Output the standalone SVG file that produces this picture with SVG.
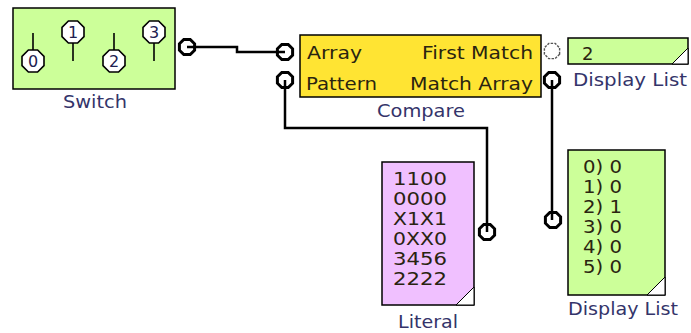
<svg xmlns="http://www.w3.org/2000/svg" width="691" height="333" viewBox="0 0 691 333">
<style>
.box{stroke:#000;stroke-width:1.5}
.t{font-family:"DejaVu Sans",Verdana,sans-serif;font-size:18px;fill:#2a2410}
.lbl{font-family:"DejaVu Sans",Verdana,sans-serif;font-size:18px;fill:#34346a}
.k{font-family:"DejaVu Sans",Verdana,sans-serif;font-size:16px;fill:#202050;text-anchor:middle}
.wire{fill:none;stroke:#000;stroke-width:2.5}
.port{fill:#fff;stroke:#000;stroke-width:3}
.dport{fill:#fff;stroke:#555;stroke-width:1.4;stroke-dasharray:2.5 1.2}
.knob{fill:#fff;stroke:#000;stroke-width:1.6}
.stem{stroke:#000;stroke-width:1.6}
.corner{fill:#fff;stroke:#000;stroke-width:1}
</style>
<defs>
<polygon id="oct" points="7.6,3.2 3.2,7.6 -3.2,7.6 -7.6,3.2 -7.6,-3.2 -3.2,-7.6 3.2,-7.6 7.6,-3.2"/>
<polygon id="koct" points="11,4.6 4.6,11 -4.6,11 -11,4.6 -11,-4.6 -4.6,-11 4.6,-11 11,-4.6"/>
</defs>

<g id="switch">
<rect class="box" x="13" y="8" width="162" height="81" fill="#ccff99"/>
<line class="stem" x1="33" y1="33" x2="33" y2="51"/>
<use href="#koct" class="knob" x="33" y="61"/>
<text class="k" x="33" y="67">0</text>
<line class="stem" x1="73" y1="42" x2="73" y2="61"/>
<use href="#koct" class="knob" x="73" y="32"/>
<text class="k" x="73" y="38">1</text>
<line class="stem" x1="114" y1="33" x2="114" y2="51"/>
<use href="#koct" class="knob" x="114" y="61"/>
<text class="k" x="114" y="67">2</text>
<line class="stem" x1="154" y1="42" x2="154" y2="61"/>
<use href="#koct" class="knob" x="154" y="32"/>
<text class="k" x="154" y="38">3</text>
<use href="#oct" class="port" x="187" y="47"/>
<text class="lbl" x="63" y="108" textLength="64" lengthAdjust="spacingAndGlyphs">Switch</text>
</g>

<g id="compare">
<rect class="box" x="300" y="35" width="241" height="62" fill="#ffe433"/>
<text class="t" x="307" y="59" textLength="55" lengthAdjust="spacingAndGlyphs">Array</text>
<text class="t" x="306" y="90" textLength="71" lengthAdjust="spacingAndGlyphs">Pattern</text>
<text class="t" x="422" y="59" textLength="111" lengthAdjust="spacingAndGlyphs">First Match</text>
<text class="t" x="410" y="90" textLength="123" lengthAdjust="spacingAndGlyphs">Match Array</text>
<use href="#oct" class="port" x="285" y="52"/>
<use href="#oct" class="port" x="285" y="80"/>
<use href="#oct" class="dport" x="552" y="51"/>
<use href="#oct" class="port" x="552" y="80"/>
<text class="lbl" x="377" y="117" textLength="88" lengthAdjust="spacingAndGlyphs">Compare</text>
</g>

<g id="display1">
<rect class="box" x="568" y="38" width="120" height="26" fill="#ccff99"/>
<polygon class="corner" points="688,48 688,64 672,64"/>
<text class="t" x="582" y="60">2</text>
<text class="lbl" x="573" y="86" textLength="114" lengthAdjust="spacingAndGlyphs">Display List</text>
</g>

<g id="literal">
<rect class="box" x="382" y="162" width="92" height="143" fill="#f0c0ff"/>
<polygon class="corner" points="474,287 474,305 456,305"/>
<g class="t">
<text x="393" y="185" textLength="54" lengthAdjust="spacingAndGlyphs">1100</text>
<text x="393" y="205" textLength="54" lengthAdjust="spacingAndGlyphs">0000</text>
<text x="393" y="225" textLength="54" lengthAdjust="spacingAndGlyphs">X1X1</text>
<text x="393" y="245" textLength="54" lengthAdjust="spacingAndGlyphs">0XX0</text>
<text x="393" y="265" textLength="54" lengthAdjust="spacingAndGlyphs">3456</text>
<text x="393" y="285" textLength="54" lengthAdjust="spacingAndGlyphs">2222</text>
</g>
<use href="#oct" class="port" x="487" y="232"/>
<text class="lbl" x="398" y="328" textLength="60" lengthAdjust="spacingAndGlyphs">Literal</text>
</g>

<g id="display2">
<rect class="box" x="568" y="150" width="97" height="145" fill="#ccff99"/>
<polygon class="corner" points="665,277 665,295 647,295"/>
<g class="t">
<text x="583" y="173" textLength="39" lengthAdjust="spacingAndGlyphs">0) 0</text>
<text x="583" y="193" textLength="39" lengthAdjust="spacingAndGlyphs">1) 0</text>
<text x="583" y="213" textLength="39" lengthAdjust="spacingAndGlyphs">2) 1</text>
<text x="583" y="233" textLength="39" lengthAdjust="spacingAndGlyphs">3) 0</text>
<text x="583" y="253" textLength="39" lengthAdjust="spacingAndGlyphs">4) 0</text>
<text x="583" y="273" textLength="39" lengthAdjust="spacingAndGlyphs">5) 0</text>
</g>
<use href="#oct" class="port" x="553" y="220"/>
<text class="lbl" x="568" y="315" textLength="110" lengthAdjust="spacingAndGlyphs">Display List</text>
</g>

<g id="connectors">
<path class="wire" d="M187,47 H237 V52 H285"/>
<path class="wire" d="M285,80 V128 H487 V232"/>
<path class="wire" d="M552,80 V220"/>
</g>
</svg>
